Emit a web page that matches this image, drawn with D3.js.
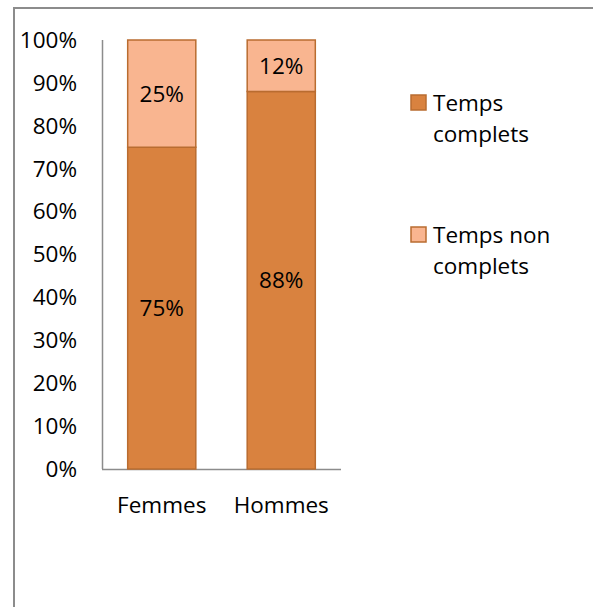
<!DOCTYPE html>
<html>
<head>
<meta charset="utf-8">
<script src="https://cdn.jsdelivr.net/npm/d3@7"></script>
<style>
  body { margin: 0; background: #fff; }
  svg text { font-family: "Open Sans", sans-serif; fill: #000; font-size: 22.5px; }
</style>
</head>
<body>
<svg width="593" height="607"></svg>
<script>
var categories = ["Femmes", "Hommes"];
var seriesNames = ["Temps complets", "Temps non complets"];
var complets = [75, 88];
var nonComplets = [25, 12];
var yTicks = [0, 10, 20, 30, 40, 50, 60, 70, 80, 90, 100];
var legendLines = [["Temps", "complets"], ["Temps non", "complets"]];
var colors = ["#D9823F", "#F9B590"];

var svg = d3.select("svg");

// outer frame (cropped on right and bottom)
svg.append("rect")
    .attr("x", 14).attr("y", 8)
    .attr("width", 700).attr("height", 700)
    .attr("fill", "none")
    .attr("stroke", "#8c8c8c")
    .attr("stroke-width", 2);

var x = d3.scaleBand()
    .domain(categories)
    .range([102, 341])
    .paddingInner(0.43)
    .paddingOuter(0.215);

var y = d3.scaleLinear()
    .domain([0, 100])
    .range([469, 40]);

var rows = categories.map(function(c, i) {
  return { cat: c, complets: complets[i], non: nonComplets[i] };
});
var stacked = d3.stack().keys(["complets", "non"])(rows);

// axes lines
svg.append("line")
    .attr("x1", 102.5).attr("x2", 102.5)
    .attr("y1", y(100)).attr("y2", y(0))
    .attr("stroke", "#8c8c8c").attr("stroke-width", 1.5);
svg.append("line")
    .attr("x1", 102).attr("x2", 341)
    .attr("y1", y(0) + 0.5).attr("y2", y(0) + 0.5)
    .attr("stroke", "#8c8c8c").attr("stroke-width", 1.5);

// y tick labels
svg.append("g").selectAll("text")
    .data(yTicks)
  .enter().append("text")
    .attr("x", 77)
    .attr("y", function(d) { return y(d); })
    .attr("dy", "0.35em")
    .attr("text-anchor", "end")
    .text(function(d) { return d + "%"; });

// bars
var layers = svg.append("g").selectAll("g")
    .data(stacked)
  .enter().append("g")
    .attr("fill", function(d, i) { return colors[i]; });

layers.selectAll("rect")
    .data(function(d) { return d; })
  .enter().append("rect")
    .attr("x", function(d) { return x(d.data.cat); })
    .attr("y", function(d) { return y(d[1]); })
    .attr("width", x.bandwidth())
    .attr("height", function(d) { return y(d[0]) - y(d[1]); })
    .attr("stroke", "#B96C30")
    .attr("stroke-width", 1.5);

layers.selectAll("text")
    .data(function(d) { return d; })
  .enter().append("text")
    .attr("x", function(d) { return x(d.data.cat) + x.bandwidth() / 2; })
    .attr("y", function(d) { return (y(d[0]) + y(d[1])) / 2; })
    .attr("dy", "0.35em")
    .attr("text-anchor", "middle")
    .text(function(d) { return (d[1] - d[0]) + "%"; });

// x labels
svg.append("g").selectAll("text")
    .data(categories)
  .enter().append("text")
    .attr("x", function(d) { return x(d) + x.bandwidth() / 2; })
    .attr("y", 505)
    .attr("dy", "0.35em")
    .attr("text-anchor", "middle")
    .text(function(d) { return d; });

// legend
var legend = svg.append("g").selectAll("g")
    .data(seriesNames)
  .enter().append("g")
    .attr("transform", function(d, i) { return "translate(411," + (95 + i * 132) + ")"; });

legend.append("rect")
    .attr("width", 15).attr("height", 15)
    .attr("fill", function(d, i) { return colors[i]; })
    .attr("stroke", "#B96C30")
    .attr("stroke-width", 1.5);

legend.append("text")
    .attr("x", 22)
    .attr("y", 16)
    .selectAll("tspan")
    .data(function(d, i) { return legendLines[i]; })
  .enter().append("tspan")
    .attr("x", 22)
    .attr("dy", function(d, j) { return j === 0 ? 0 : 31; })
    .text(function(d) { return d; });
</script>
</body>
</html>
